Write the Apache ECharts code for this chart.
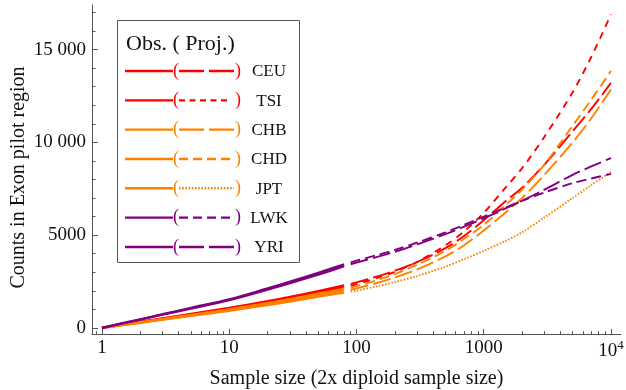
<!DOCTYPE html>
<html><head><meta charset="utf-8">
<script src="https://cdn.jsdelivr.net/npm/echarts@6/dist/echarts.min.js"></script>
<style>html,body{margin:0;padding:0;background:#fff}#c{width:626px;height:390px}</style>
</head><body><div id="c"></div>
<script>
// ---- data ----
const populations = ['CEU','TSI','CHB','CHD','JPT','LWK','YRI'];
const obsSizes  = [1, 2, 3, 5, 10, 20, 30, 50, 80];
const projSizes = [90, 100, 150, 200, 300, 500, 700, 1000, 1500, 2000, 3000, 5000, 7000, 10000];

const obsCEU = [0, 325, 515, 755, 1080, 1440, 1670, 1980, 2290];
const obsTSI = [0, 313, 496, 727, 1040, 1390, 1610, 1910, 2200];
const obsCHB = [0, 289, 458, 672, 960, 1290, 1490, 1760, 2020];
const obsCHD = [0, 301, 477, 700, 1000, 1340, 1550, 1840, 2110];
const obsJPT = [0, 277, 439, 644, 920, 1230, 1420, 1680, 1900];
const obsLWK = [0, 464, 735, 1077, 1540, 2127, 2488, 2965, 3424];
const obsYRI = [0, 449, 711, 1041, 1490, 2060, 2410, 2870, 3320];

const projCEU = [2370, 2450, 2800, 3080, 3550, 4300, 4950, 5800, 6850, 7550, 8800, 10600, 11800, 13200];
const projTSI = [2280, 2360, 2720, 3020, 3560, 4450, 5200, 6200, 7600, 8600, 10300, 12700, 14600, 16900];
const projCHB = [2070, 2130, 2450, 2720, 3150, 3850, 4450, 5250, 6250, 7000, 8250, 10000, 11300, 12850];
const projCHD = [2170, 2250, 2600, 2900, 3400, 4150, 4800, 5550, 6650, 7450, 8800, 10900, 12300, 13850];
const projJPT = [1960, 2010, 2260, 2470, 2800, 3300, 3700, 4150, 4700, 5150, 5950, 7000, 7700, 8400];
const projLWK = [3530, 3620, 3950, 4200, 4600, 5150, 5550, 6000, 6500, 6850, 7300, 7800, 8050, 8300];
const projYRI = [3430, 3520, 3850, 4100, 4500, 5050, 5450, 5900, 6450, 6850, 7450, 8250, 8700, 9150];

const xTickValues = [1, 10, 100, 1000, 10000];
const xTickLabels = ['1', '10', '100', '1000', '10^4'];
const yTickValues = [0, 5000, 10000, 15000];
const yTickLabels = ['0', '5000', '10 000', '15 000'];

// ---- styles ----
const RED = '#ff0000', ORANGE = '#ff8000', PURPLE = '#800080';
const colors = [RED, RED, ORANGE, ORANGE, ORANGE, PURPLE, PURPLE];
const LONG = [18, 5], MED = [10, 5], SHORT = [7, 6], DOT = [1.6, 1.6];
const dashes = [LONG, SHORT, LONG, MED, DOT, MED, LONG];
const legDashes = [[25, 5], [6, 4.5], [25, 5], [9, 5], [1.6, 1.6], [9, 5], [25, 5]];
const legEnd = [234, 230, 234, 230, 234, 230, 234];
const obsData = [obsCEU, obsTSI, obsCHB, obsCHD, obsJPT, obsLWK, obsYRI];
const projData = [projCEU, projTSI, projCHB, projCHD, projJPT, projLWK, projYRI];

const FONT = 'Liberation Serif';
const toXY = (xs, ys) => xs.map((x, i) => [Math.log10(x), ys[i]]);

const series = [];
populations.forEach((p, i) => {
  series.push({
    name: p + ' obs', type: 'line', data: toXY(obsSizes, obsData[i]),
    xAxisIndex: 0, yAxisIndex: 0,
    showSymbol: false, smooth: 0.3, silent: true,
    lineStyle: { color: colors[i], width: 2.3 }, z: 2 + i
  });
  series.push({
    name: p + ' proj', type: 'line', data: toXY(projSizes, projData[i]),
    xAxisIndex: 0, yAxisIndex: 0,
    showSymbol: false, smooth: 0.3, silent: true,
    lineStyle: { color: colors[i], width: 1.9, type: dashes[i], cap: 'butt' }, z: 2 + i
  });
});

const xMin = -0.0786, xMax = 4.0786, yMin = -330, yMax = 17400;
const xMinor = [Math.log10(0.9)];
for (let k = 0; k < 4; k++) for (let m = 2; m <= 9; m++) xMinor.push(Math.log10(m * Math.pow(10, k)));
const yMinor = [];
for (let v = 1000; v <= 17000; v += 1000) if (v % 5000) yMinor.push(v);

const axisColor = '#555';
const TXT = '#111';
const legendGraphics = [];
legendGraphics.push({ type: 'rect', shape: { x: 117.5, y: 20.5, width: 182, height: 242 },
  style: { fill: '#fff', stroke: axisColor, lineWidth: 1 }, z: 100 });
legendGraphics.push({ type: 'text', x: 126, y: 44, z: 101,
  style: { text: 'Obs. ( Proj.)', font: '22px "' + FONT + '"', fill: TXT, verticalAlign: 'middle', align: 'left' } });
populations.forEach((p, i) => {
  const y = 71 + i * 29.33;
  legendGraphics.push({ type: 'line', z: 101, shape: { x1: 125, y1: y, x2: 173, y2: y },
    style: { stroke: colors[i], lineWidth: 2.4 } });
  legendGraphics.push({ type: 'text', z: 101, x: 176, y: y,
    style: { text: '(', font: '18px "' + FONT + '"', fill: colors[i], align: 'center', verticalAlign: 'middle' } });
  legendGraphics.push({ type: 'line', z: 101, shape: { x1: 179, y1: y, x2: legEnd[i], y2: y },
    style: { stroke: colors[i], lineWidth: 2.4, lineDash: legDashes[i] } });
  legendGraphics.push({ type: 'text', z: 101, x: 238, y: y,
    style: { text: ')', font: '18px "' + FONT + '"', fill: colors[i], align: 'center', verticalAlign: 'middle' } });
  legendGraphics.push({ type: 'text', z: 101, x: 269, y: y + 1,
    style: { text: p, font: '17px "' + FONT + '"', fill: TXT, align: 'center', verticalAlign: 'middle' } });
});

const gridBox = { left: 92, right: 5, top: 5, bottom: 56, containLabel: false, outerBoundsMode: 'none' };
const chart = echarts.init(document.getElementById('c'), null, { renderer: 'canvas' });
chart.setOption({
  animation: false,
  backgroundColor: '#fff',
  grid: [Object.assign({}, gridBox), Object.assign({}, gridBox)],
  xAxis: [{
    type: 'value', gridIndex: 0, min: xMin, max: xMax, position: 'bottom',
    name: 'Sample size (2x diploid sample size)', nameLocation: 'middle', nameGap: 35,
    nameTextStyle: { fontFamily: FONT, fontSize: 20, color: TXT },
    axisLine: { show: true, onZero: false, lineStyle: { color: axisColor, width: 1 } },
    axisTick: { show: true, inside: true, length: 5, lineStyle: { color: axisColor },
      customValues: xTickValues.map(v => Math.log10(v)) },
    axisLabel: { show: true, margin: 5, fontFamily: FONT, fontSize: 19, color: TXT,
      customValues: xTickValues.map(v => Math.log10(v)),
      formatter: function (v) {
        const idx = xTickValues.findIndex(t => Math.abs(Math.log10(t) - v) < 1e-6);
        const s = idx >= 0 ? xTickLabels[idx] : '';
        if (s === '10^4') return '{b|10}{s|4}';
        return s;
      },
      rich: { b: { fontFamily: FONT, fontSize: 19, color: TXT },
              s: { fontFamily: FONT, fontSize: 13, color: TXT, padding: [0, 0, 11, 0] } } },
    splitLine: { show: false }
  }, {
    type: 'value', gridIndex: 1, min: xMin, max: xMax, position: 'bottom',
    axisLine: { show: false, onZero: false },
    axisTick: { show: true, inside: true, length: 2.8, lineStyle: { color: axisColor }, customValues: xMinor },
    axisLabel: { show: false }, splitLine: { show: false }
  }],
  yAxis: [{
    type: 'value', gridIndex: 0, min: yMin, max: yMax, position: 'left',
    name: 'Counts in Exon pilot region', nameLocation: 'middle', nameGap: 63, nameMoveOverlap: false,
    nameTextStyle: { fontFamily: FONT, fontSize: 20, color: TXT, padding: [0, 16, 0, 0] },
    axisLine: { show: true, onZero: false, lineStyle: { color: axisColor, width: 1 } },
    axisTick: { show: true, inside: true, length: 6, lineStyle: { color: axisColor }, customValues: yTickValues },
    axisLabel: { show: true, margin: 6, fontFamily: FONT, fontSize: 19, color: TXT,
      customValues: yTickValues,
      formatter: function (v) { const idx = yTickValues.indexOf(v); return idx >= 0 ? yTickLabels[idx] : ''; } },
    splitLine: { show: false }
  }, {
    type: 'value', gridIndex: 1, min: yMin, max: yMax, position: 'left',
    axisLine: { show: false, onZero: false },
    axisTick: { show: true, inside: true, length: 3.5, lineStyle: { color: axisColor }, customValues: yMinor },
    axisLabel: { show: false }, splitLine: { show: false }
  }],
  series: series,
  graphic: legendGraphics
});
</script>
</body></html>
